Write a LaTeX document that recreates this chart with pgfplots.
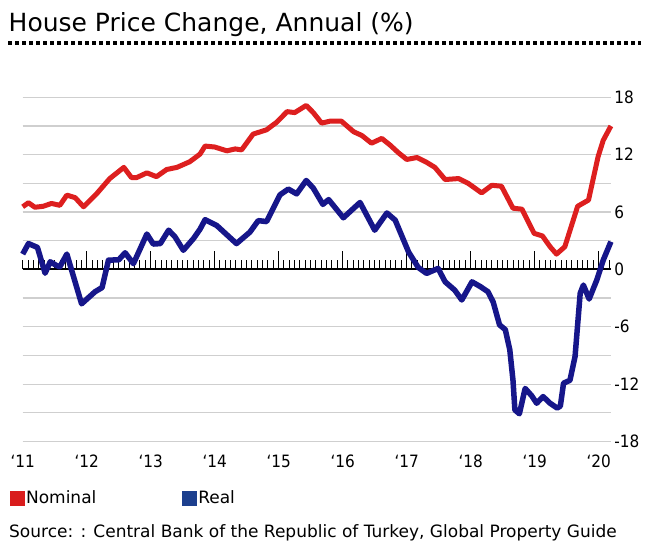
\documentclass[border=0pt]{standalone}
\usepackage{pgfplots}
\pgfplotsset{compat=1.18}
\usepackage{fontspec}
\newfontfamily\cond{DejaVu Sans Condensed}
\newfontfamily\dvs{DejaVu Sans}
\definecolor{nomred}{HTML}{DD1F1F}
\definecolor{realblue}{HTML}{16168A}
\definecolor{legred}{HTML}{D91C1C}
\definecolor{legblue}{HTML}{1C3F8E}
\definecolor{gridc}{HTML}{CFCFCF}
\begin{document}
\begin{tikzpicture}
\path[use as bounding box] (0,0) rectangle (648pt,548pt);
\fill[white] (0,0) rectangle (648pt,548pt);
% title
\node[anchor=base west, inner sep=0pt] at (8.5pt,516.3pt) {\dvs\fontsize{25}{25}\selectfont House Price Change, Annual (\%)};
\draw[line width=3.5pt, dash pattern=on 3.5pt off 3.5pt] (8pt,505pt) -- (641pt,505pt);
% source
\node[anchor=base west, inner sep=0pt] at (9pt,10.7pt) {\dvs\fontsize{17}{17}\selectfont Source: : Central Bank of the Republic of Turkey, Global Property Guide};

% zero line with monthly ticks
\begin{axis}[
  at={(22.7pt,278.7pt)}, anchor=south west, scale only axis,
  width=588.2pt, height=20pt,
  xmin=2011, xmax=2020.19, ymin=0, ymax=1,
  axis x line*=bottom, axis y line=none,
  x axis line style={line width=2pt, -},
  xtick pos=left,
  xtick={2012,...,2020}, xticklabels={},
  minor xtick={2011,2011.083333,...,2020.19},
  major tick length=18pt, minor tick length=9.5pt,
  tick align=inside,
  tick style={black, line width=1pt},
]
\addplot[draw=none] coordinates {(2011,0)};
\end{axis}

\begin{axis}[
  at={(22.7pt,106.5pt)}, anchor=south west, scale only axis,
  width=588.2pt, height=344.2pt,
  xmin=2011, xmax=2020.19, ymin=-18, ymax=18,
  axis line style={draw=none},
  clip=false,
  xtick={2011,...,2020},
  xticklabels={‘11,‘12,‘13,‘14,‘15,‘16,‘17,‘18,‘19,‘20},
  ytick={-18,-12,-6,0,6,12,18},
  yticklabels={-18,-12,-6,0,6,12,18},
  extra y ticks={-18,-15,-12,-9,-6,-3,3,6,9,12,15,18},
  extra y tick labels={},
  extra y tick style={grid=major, major grid style={gridc, line width=1.2pt}},
  major tick length=0pt, minor tick length=0pt,
  yticklabel pos=right,
  xticklabel style={font=\cond\fontsize{17}{17}\selectfont, yshift=-10pt},
  yticklabel style={font=\cond\fontsize{17}{17}\selectfont},
  legend style={at={(-0.0216,-0.165)}, anchor=west, draw=none, fill=none,
    inner sep=0pt, font=\dvs\fontsize{17}{17}\selectfont,
    /tikz/every even column/.append style={column sep=84pt}},
  legend columns=2,
  legend image code/.code={\fill[#1] (0pt,-6.7pt) rectangle (13.5pt,6.7pt);},
]
\addplot[nomred, line width=5pt, line join=round, forget plot] coordinates {
(2011.00,6.55) (2011.09,6.97) (2011.19,6.5) (2011.32,6.6) (2011.45,6.9)
(2011.58,6.7) (2011.69,7.77) (2011.82,7.5) (2011.95,6.55) (2012.16,7.95)
(2012.36,9.5) (2012.58,10.67) (2012.70,9.6) (2012.78,9.6) (2012.94,10.1)
(2013.09,9.7) (2013.25,10.45) (2013.41,10.67) (2013.61,11.26) (2013.77,12.06)
(2013.85,12.9) (2014.00,12.8) (2014.19,12.4) (2014.32,12.6) (2014.42,12.5)
(2014.60,14.15) (2014.81,14.6) (2014.97,15.4) (2015.13,16.5) (2015.25,16.4)
(2015.43,17.15) (2015.54,16.4) (2015.67,15.3) (2015.80,15.5) (2015.98,15.5)
(2016.17,14.4) (2016.30,14.0) (2016.45,13.2) (2016.61,13.7) (2016.74,13.0)
(2016.87,12.2) (2017.00,11.5) (2017.16,11.7) (2017.31,11.2) (2017.44,10.67)
(2017.60,9.4) (2017.81,9.5) (2017.96,9.0) (2018.17,8.0) (2018.33,8.8)
(2018.48,8.7) (2018.66,6.4) (2018.80,6.3) (2018.99,3.77) (2019.12,3.5)
(2019.24,2.37) (2019.34,1.6) (2019.47,2.37) (2019.67,6.6) (2019.84,7.25)
(2019.99,11.8) (2020.07,13.5) (2020.19,15.0)
};
\addplot[realblue, line width=5.5pt, line join=round, forget plot] coordinates {
(2011.00,1.6) (2011.09,2.7) (2011.23,2.3) (2011.35,-0.4) (2011.43,0.8)
(2011.53,0.4) (2011.58,0.27) (2011.69,1.6) (2011.92,-3.6) (2012.13,-2.34)
(2012.24,-1.9) (2012.34,0.97) (2012.50,1.0) (2012.60,1.74) (2012.73,0.6)
(2012.94,3.7) (2013.04,2.65) (2013.15,2.7) (2013.28,4.1) (2013.38,3.4)
(2013.51,2.0) (2013.67,3.24) (2013.77,4.2) (2013.85,5.2) (2014.03,4.6)
(2014.34,2.7) (2014.55,3.9) (2014.68,5.1) (2014.81,5.0) (2015.02,7.8)
(2015.15,8.4) (2015.28,7.9) (2015.43,9.3) (2015.54,8.5) (2015.69,6.8)
(2015.78,7.3) (2016.01,5.4) (2016.27,7.0) (2016.50,4.1) (2016.69,5.9)
(2016.82,5.15) (2017.03,1.8) (2017.18,0.2) (2017.31,-0.42) (2017.49,0.1)
(2017.60,-1.3) (2017.75,-2.17) (2017.86,-3.2) (2018.02,-1.3) (2018.15,-1.8)
(2018.27,-2.34) (2018.35,-3.4) (2018.45,-5.8) (2018.54,-6.3) (2018.61,-8.4)
(2018.66,-11.6) (2018.69,-14.7) (2018.76,-15.1) (2018.85,-12.45) (2018.95,-13.2)
(2019.03,-14.0) (2019.13,-13.3) (2019.24,-14.0) (2019.35,-14.5) (2019.40,-14.3)
(2019.45,-11.9) (2019.55,-11.6) (2019.63,-9.1) (2019.71,-2.5) (2019.76,-1.64)
(2019.85,-3.1) (2019.97,-1.1) (2020.07,0.97) (2020.19,2.9)
};
\addlegendimage{legred}
\addlegendentry{Nominal}
\addlegendimage{legblue}
\addlegendentry{Real}
\end{axis}
\end{tikzpicture}
\end{document}
